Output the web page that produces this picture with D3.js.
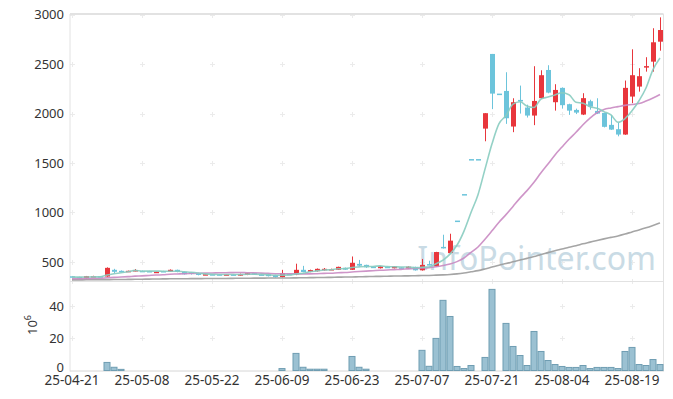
<!DOCTYPE html>
<html lang="ko">
<head>
<meta charset="UTF-8">
<title>주가 차트</title>
<style>
  body { margin: 0; background: #fff; overflow: hidden; }
  svg text { font-family: "Noto Sans", sans-serif; }
  .tick text { fill: #333; font-size: 13px; }
</style>
</head>
<body>
<script src="https://d3js.org/d3.v7.min.js"></script>
<script>
const dates = [
  "25-04-21","25-04-22","25-04-23","25-04-24","25-04-25","25-04-28","25-04-29","25-04-30",
  "25-05-02","25-05-07","25-05-08","25-05-09","25-05-12","25-05-13","25-05-14","25-05-15","25-05-16",
  "25-05-19","25-05-20","25-05-21","25-05-22","25-05-23","25-05-26","25-05-27","25-05-28","25-05-29","25-05-30",
  "25-06-02","25-06-04","25-06-05","25-06-09","25-06-10","25-06-11","25-06-12","25-06-13","25-06-16","25-06-17",
  "25-06-18","25-06-19","25-06-20","25-06-23","25-06-24","25-06-25","25-06-26","25-06-27","25-06-30",
  "25-07-01","25-07-02","25-07-03","25-07-04","25-07-07","25-07-08","25-07-09","25-07-10","25-07-11","25-07-14",
  "25-07-15","25-07-16","25-07-17","25-07-18","25-07-21","25-07-22","25-07-23","25-07-24","25-07-25","25-07-28",
  "25-07-29","25-07-30","25-07-31","25-08-01","25-08-04","25-08-05","25-08-06","25-08-07","25-08-08","25-08-11",
  "25-08-12","25-08-13","25-08-14","25-08-18","25-08-19","25-08-20","25-08-21","25-08-22","25-08-25"
];

const opens = [355,348,335,352,356,352,420,410,400,410, 410,408,398,408,400,420,400,395,388,373,
  376,375,369,374,369,368,386,374,374,368, 346,380,372,420,400,406,415,425,420,440,
  420,480,470,452,436,451,436,445,434,450, 415,478,455,652,590,918,1186,1540,1540,1848,
  2603,2202,2229,1869,2138,2061,1980,2156,2441,2115, 2260,2095,2037,1990,2125,2027,2007,1886,1842,1788,
  2172,2273,2465,2525,2727];
const highs = [358,350,358,360,357,445,430,414,412,428, 413,410,404,410,424,422,402,396,390,379,
  378,377,377,376,382,388,388,376,376,370, 420,381,482,460,422,434,438,432,452,443,
  555,520,472,454,460,453,458,447,455,452, 530,512,602,775,785,918,1186,1540,1540,2004,
  2603,2202,2418,2155,2283,2090,2479,2438,2489,2297, 2265,2100,2050,2206,2140,2155,2010,1985,1905,2334,
  2650,2459,2570,2863,2973];
const lows = [342,332,333,350,352,350,385,397,398,405, 398,402,396,403,398,395,372,372,364,370,
  370,366,367,367,362,366,368,366,353,343, 343,378,366,395,396,402,412,420,418,419,
  418,458,440,446,433,446,434,434,432,412, 412,466,452,636,585,918,1186,1540,1540,1720,
  2045,2202,1896,1812,2000,1960,1883,2150,2205,2030, 2050,1987,1995,1985,2040,1995,1860,1835,1770,1785,
  2105,2222,2424,2424,2636];
const closes = [345,335,356,356,354,440,400,400,410,418, 400,405,401,405,420,398,375,378,368,376,
  373,368,375,369,376,386,370,368,356,346, 388,379,420,398,418,430,430,428,450,422,
  490,462,446,449,455,448,455,436,452,415, 470,470,600,640,715,918,1186,1540,1540,2004,
  2202,2202,1953,2115,2128,1980,2128,2388,2212,2239, 2085,2030,2010,2156,2070,2000,1866,1838,1788,2260,
  2388,2378,2480,2721,2845];

// 거래량 (백만 주)
const volume = [0.1,0.1,0.1,0.1,0.1,5.0,2.0,0.7,0.1,0.1, 0.1,0.1,0.1,0.1,0.1,0.1,0.1,0.1,0.1,0.1,
  0.1,0.1,0.1,0.1,0.1,0.1,0.1,0.1,0.1,0.1, 1.2,0.1,10.6,2.0,0.8,0.8,0.8,0.1,0.1,0.1,
  8.7,2.0,0.8,0.1,0.1,0.1,0.1,0.1,0.1,0.1, 12.5,2.6,19.9,43.5,33.5,2.5,1.2,3.1,0,8.1,
  50.3,0,29.2,14.9,9.3,3.1,24.2,11.8,6.2,3.7, 2.5,1.9,1.9,3.1,1.2,1.9,1.9,1.9,1.2,11.8,
  14.3,3.7,3.1,6.8,3.7];

const ma5 = [349,346,347,349,349,368,381,390,401,414, 406,407,407,406,406,406,400,395,388,379,
  374,373,372,372,372,375,375,374,371,365, 366,367,378,386,401,409,419,421,431,432,
  444,450,454,454,460,452,451,449,449,441, 446,449,481,519,579,669,812,1000,1180,1438,
  1694,1898,1980,2095,2120,2076,2061,2148,2167,2189, 2210,2191,2115,2104,2070,2053,2020,1986,1912,1950,
  2028,2130,2259,2445,2562];
const ma20 = [331,331,332,334,335,340,344,347,351,356, 359,363,367,370,375,378,381,383,385,387,
  388,390,391,392,393,390,389,387,384,381, 380,379,380,379,379,381,384,386,390,393,
  398,403,407,411,415,418,422,425,430,434, 438,442,451,463,478,503,540,596,651,730,
  815,902,978,1061,1145,1221,1305,1402,1490,1582, 1662,1740,1811,1887,1954,2008,2042,2057,2070,2083,
  2092,2101,2127,2157,2193];
const ma100 = [318,318,319,319,320,321,322,322,323,324, 325,326,327,328,329,330,330,331,331,332,
  332,333,333,334,335,335,336,336,337,337, 338,338,339,340,341,342,343,344,346,347,
  348,350,351,353,354,355,357,358,359,360, 362,363,366,369,373,379,388,400,412,429,
  448,467,483,501,519,536,554,575,594,613, 630,648,664,683,700,717,733,748,763,782,
  803,823,845,869,894];

const priceTicks = [500, 1000, 1500, 2000, 2500, 3000];
const volumeTicks = [0, 20, 40];
const labelDates = dates.filter((d, i) => i % 10 === 0);

const width = 673, height = 399;
const plotLeft = 70, plotRight = 663.5, plotTop = 14, plotMid = 281, plotBottom = 370.5;

const svg = d3.select("body").append("svg").attr("width", width).attr("height", height);

const x = d3.scaleBand().domain(dates).range([68.5, 663.5]);
const y = d3.scaleLinear().domain([307, 3007]).range([plotMid, plotTop]);
const yv = d3.scaleLinear().domain([0, 55.5]).range([plotBottom, plotMid]);
const cx = d => x(d) + x.bandwidth() / 2;

// 격자 (+ 표시)
const grid = svg.append("g").attr("stroke", "#ebebeb").attr("stroke-width", 1);
labelDates.forEach(d => {
  [...priceTicks.map(v => y(v)), ...volumeTicks.slice(1).map(v => yv(v)), plotMid].forEach(py => {
    const px = Math.round(cx(d)) + 0.5, pyy = Math.round(py) + 0.5;
    grid.append("line").attr("x1", px - 2.5).attr("x2", px + 2.5).attr("y1", pyy).attr("y2", pyy);
    grid.append("line").attr("x1", px).attr("x2", px).attr("y1", pyy - 2.5).attr("y2", pyy + 2.5);
  });
});

// 테두리
const frame = svg.append("g").attr("stroke", "#e2e2e2").attr("fill", "none");
frame.append("line").attr("x1", plotLeft).attr("x2", plotRight).attr("y1", plotTop).attr("y2", plotTop).attr("stroke-width", 2);
frame.append("line").attr("x1", plotLeft).attr("x2", plotLeft).attr("y1", plotTop).attr("y2", plotBottom + 1);
frame.append("line").attr("x1", plotRight).attr("x2", plotRight).attr("y1", plotTop).attr("y2", plotBottom + 1);
frame.append("line").attr("x1", plotLeft).attr("x2", plotRight).attr("y1", plotMid + 0.5).attr("y2", plotMid + 0.5);
frame.append("line").attr("x1", plotLeft).attr("x2", plotRight).attr("y1", plotBottom + 0.5).attr("y2", plotBottom + 0.5).attr("stroke", "#d6d6d6");

// 워터마크
svg.append("text")
  .attr("x", 656).attr("y", 270)
  .attr("text-anchor", "end")
  .style("font-size", "32px")
  .style("fill", "#c9dbe5")
  .text("InfoPointer.com");

// 거래량
svg.append("g").selectAll("rect").data(dates).join("rect")
  .attr("x", d => x(d) + 0.5)
  .attr("y", (d, i) => yv(volume[i]))
  .attr("width", x.bandwidth() - 1)
  .attr("height", (d, i) => yv(0) - yv(volume[i]))
  .attr("fill", "#9bc1d2")
  .attr("stroke", "#6f9db2")
  .attr("stroke-width", 1)
  .attr("opacity", (d, i) => volume[i] > 0.3 ? 1 : 0);

// 캔들
const up = "#e8363c", down = "#6cc4db";
const color = i => closes[i] > opens[i] ? up : down;
const candles = svg.append("g");
candles.selectAll("line").data(dates).join("line")
  .attr("x1", d => Math.round(cx(d)) + 0.5).attr("x2", d => Math.round(cx(d)) + 0.5)
  .attr("y1", (d, i) => y(highs[i])).attr("y2", (d, i) => y(lows[i]))
  .attr("stroke", (d, i) => color(i)).attr("stroke-width", 1);
candles.selectAll("rect").data(dates).join("rect")
  .attr("x", d => Math.round(cx(d)) - 2)
  .attr("width", 5)
  .attr("y", (d, i) => y(Math.max(opens[i], closes[i])))
  .attr("height", (d, i) => Math.max(1.5, Math.abs(y(opens[i]) - y(closes[i]))))
  .attr("fill", (d, i) => color(i));

// 이동평균선
const lineGen = arr => d3.line().x(d => cx(d)).y((d, i) => y(arr[i])).curve(d3.curveMonotoneX)(dates);
[[ma100, "#9b9b9b"], [ma20, "#c98ac2"], [ma5, "#88ccc0"]].forEach(([arr, c]) => {
  svg.append("path").attr("d", lineGen(arr)).attr("fill", "none")
    .attr("stroke", c).attr("stroke-width", 1.6).attr("opacity", 0.9);
});

// 축
const yAxis = svg.append("g").attr("transform", `translate(${plotLeft},0)`)
  .call(d3.axisLeft(y).tickValues(priceTicks).tickFormat(d3.format("d")).tickSize(0).tickPadding(6));
yAxis.select(".domain").remove();

const vAxis = svg.append("g").attr("transform", `translate(${plotLeft},0)`)
  .call(d3.axisLeft(yv).tickValues(volumeTicks).tickFormat(d3.format("d")).tickSize(0).tickPadding(6));
vAxis.select(".domain").remove();
vAxis.selectAll(".tick text").filter(d => d === 0).attr("dy", "0.1em");

const xAxis = svg.append("g").attr("transform", `translate(0,${plotBottom})`)
  .call(d3.axisBottom(x).tickValues(labelDates).tickSize(0).tickPadding(5));
xAxis.select(".domain").remove();
xAxis.selectAll("text").style("font-size", "13.5px");

const unit = svg.append("text")
  .attr("transform", "translate(37,325) rotate(-90)")
  .attr("text-anchor", "middle")
  .style("font-size", "13px").style("fill", "#333");
unit.append("tspan").text("10");
unit.append("tspan").attr("dy", -6).style("font-size", "9px").text("6");
</script>
</body>
</html>
